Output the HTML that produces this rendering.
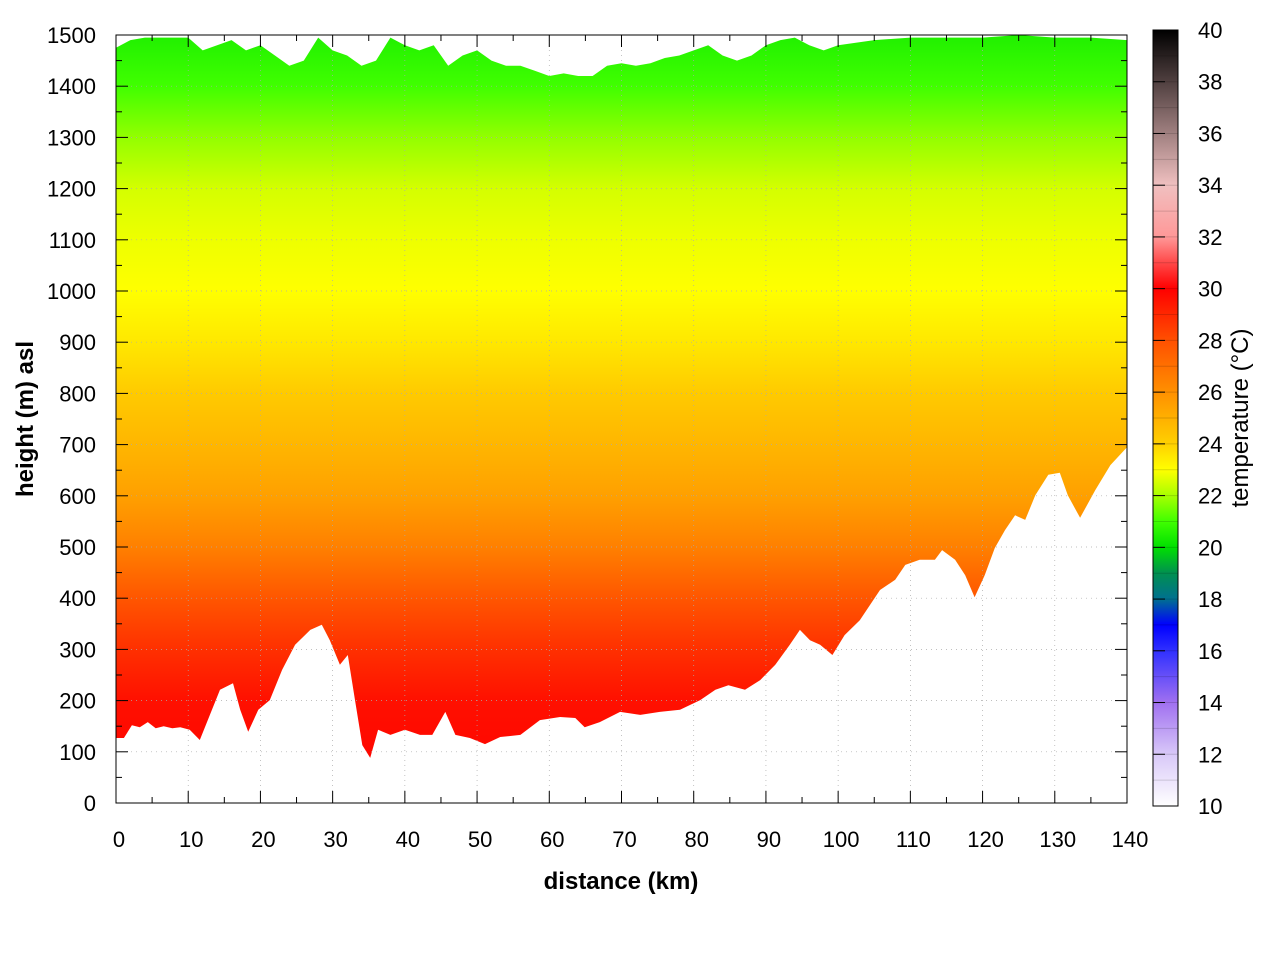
<!DOCTYPE html>
<html><head><meta charset="utf-8"><style>
html,body{margin:0;padding:0;background:#fff;}
svg text{font-family:"Liberation Sans",sans-serif;}
</style></head><body>
<svg id="chart" width="1280" height="960" xmlns="http://www.w3.org/2000/svg">
<defs>
<linearGradient id="fieldGrad" gradientUnits="userSpaceOnUse" x1="0" y1="803" x2="0" y2="35"></linearGradient>
<linearGradient id="cbGrad" gradientUnits="userSpaceOnUse" x1="0" y1="806" x2="0" y2="30"></linearGradient>
<clipPath id="plotClip"><rect x="116" y="35" width="1011" height="768"/></clipPath>
</defs>
<g id="field" clip-path="url(#plotClip)"></g>
<g id="grid"></g>
<g id="axes"></g>
<g id="cbar"></g>
</svg>
<script>
// ---- data ----
const terrainKm = [0,1.1,2.2,3.3,4.4,5.5,6.6,7.8,8.9,10.2,11.6,13,14.4,16.2,17.2,18.3,19.7,21.3,23,24.8,26.9,28.5,29.6,31,32.1,33.1,34.1,35.2,36.3,38,40,42.1,43.8,45.6,47,49,51.1,53.2,56,58.7,61.5,63.6,64.9,67,69.8,72.6,75.3,78.1,80.9,83,84.8,87.1,89.2,91.3,93.3,94.7,96.1,97.5,99.2,100.9,103,105.8,107.9,109.3,111.3,113.4,114.4,116.2,117.6,118.9,120.3,121.7,123.1,124.5,125.9,127.3,129.1,130.7,131.8,133.5,135.6,137.7,140];
const terrainM = [127,127,152,148,158,146,150,146,148,143,123,172,221,234,182,139,182,201,260,309,338,348,318,270,289,201,113,88,143,133,143,133,133,178,133,127,115,129,133,162,168,166,148,158,178,172,178,182,201,221,230,221,240,270,309,338,318,309,289,328,357,416,436,465,475,475,494,475,445,402,445,498,533,562,553,601,641,645,601,557,611,660,695];
const topKm = [0,2,4,6,8,10,12,14,16,18,20,22,24,26,28,30,32,34,36,38,40,42,44,46,48,50,52,54,56,58,60,62,64,66,68,70,72,74,76,78,80,82,84,86,88,90,92,94,96,98,100,105,110,115,120,125,130,135,140];
const topM = [1475,1490,1495,1495,1495,1495,1470,1480,1490,1470,1480,1460,1440,1450,1495,1470,1460,1440,1450,1495,1480,1470,1480,1440,1460,1470,1450,1440,1440,1430,1420,1425,1420,1420,1440,1445,1440,1445,1455,1460,1470,1480,1460,1450,1460,1480,1490,1495,1480,1470,1480,1490,1495,1495,1495,1500,1495,1495,1490];
const profileH = [0,100,200,300,400,500,600,700,800,900,1000,1100,1200,1300,1400,1500];
const profileT = [29.9,29.8,29.6,28.8,27.8,26.5,25.5,24.8,24.2,23.5,23.0,22.8,22.5,21.8,21.0,20.5];
const cmapT = [10,12,14,16,17,18,19,20,21,22,23,24,26,28,30,31,32,34,36,38,40];
const cmapC = ["#ffffff","#d8c8f8","#a070f0","#3030ff","#0000ff","#007090","#009050","#00e000","#40ff00","#a8ff00","#ffff00","#ffd000","#ff9000","#ff5000","#ff0000","#ff4848","#ff9898","#f0c0c0","#a08080","#504040","#000000"];
const xTicks = [0,10,20,30,40,50,60,70,80,90,100,110,120,130,140];
const yTicks = [0,100,200,300,400,500,600,700,800,900,1000,1100,1200,1300,1400,1500];
const cTicks = [10,12,14,16,18,20,22,24,26,28,30,32,34,36,38,40];

// ---- scales ----
const X = km => 116 + km*(1011/140);
const Y = m => 803 - m*(768/1500);
const CY = t => 806 - (t-10)*(776/30);
const NS = "http://www.w3.org/2000/svg";
function mk(tag, parent){const e=document.createElementNS(NS,tag);parent.appendChild(e);return e;}
function hex(c){return [1,3,5].map(i=>parseInt(c.substr(i,2),16));}
function cmap(t){
  for(let i=0;i<cmapT.length-1;i++){
    if(t<=cmapT[i+1]){const f=(t-cmapT[i])/(cmapT[i+1]-cmapT[i]);const a=hex(cmapC[i]),b=hex(cmapC[i+1]);
      return "rgb("+a.map((v,k)=>Math.round(v+(b[k]-v)*f)).join(",")+")";}
  }
  return cmapC[cmapC.length-1];
}
const fg=document.getElementById('fieldGrad');
profileH.forEach((h,i)=>{const s=mk('stop',fg);s.setAttribute('offset',(h/1500).toFixed(4));s.setAttribute('stop-color',cmap(profileT[i]));});
const cg=document.getElementById('cbGrad');
for(let t=10;t<=40;t+=0.25){const s=mk('stop',cg);s.setAttribute('offset',((t-10)/30).toFixed(4));s.setAttribute('stop-color',cmap(t));}

const field=document.getElementById('field');
let pts=[];
topKm.forEach((k,i)=>pts.push(X(k).toFixed(1)+","+Y(topM[i]).toFixed(1)));
for(let i=terrainKm.length-1;i>=0;i--) pts.push(X(terrainKm[i]).toFixed(1)+","+Y(terrainM[i]).toFixed(1));
const poly=mk('polygon',field);


poly.setAttribute('points',pts.join(' '));
poly.setAttribute('fill','url(#fieldGrad)');

const grid=document.getElementById('grid');
xTicks.slice(1,-1).forEach(k=>{const l=mk('line',grid);
  
  
  l.setAttribute('x1',X(k));l.setAttribute('x2',X(k));l.setAttribute('y1',35);l.setAttribute('y2',803);l.setAttribute('stroke','#aaa');l.setAttribute('stroke-width','0.7');l.setAttribute('stroke-dasharray','1,4');});
yTicks.slice(1,-1).forEach(m=>{const l=mk('line',grid);
  
  
  l.setAttribute('x1',116);l.setAttribute('x2',1127);l.setAttribute('y1',Y(m));l.setAttribute('y2',Y(m));l.setAttribute('stroke','#aaa');l.setAttribute('stroke-width','0.7');l.setAttribute('stroke-dasharray','1,4');});

const ax=document.getElementById('axes');
const fr=mk('rect',ax);


fr.setAttribute('x',116);fr.setAttribute('y',35);fr.setAttribute('width',1011);fr.setAttribute('height',768);fr.setAttribute('fill','none');fr.setAttribute('stroke','#000');
function tick(x1,y1,x2,y2){const l=mk('line',ax);l.setAttribute('x1',x1);l.setAttribute('y1',y1);l.setAttribute('x2',x2);l.setAttribute('y2',y2);l.setAttribute('stroke','#000');}
for(let k=0;k<=140;k+=5){const len=(k%10===0)?12:6;tick(X(k),803,X(k),803-len);tick(X(k),35,X(k),35+len);}
for(let m=0;m<=1500;m+=50){const len=(m%100===0)?12:6;tick(116,Y(m),116+len,Y(m));tick(1127,Y(m),1127-len,Y(m));}
xTicks.forEach(k=>{const t=mk('text',ax);
  
  
  t.setAttribute('x',X(k)+3);t.setAttribute('y',847);t.setAttribute('text-anchor','middle');t.setAttribute('font-size','22');t.textContent=k;});
yTicks.forEach(m=>{const t=mk('text',ax);
  
  
  t.setAttribute('x',96);t.setAttribute('y',Y(m)+8);t.setAttribute('text-anchor','end');t.setAttribute('font-size','22');t.textContent=m;});
const xt=mk('text',ax);


xt.setAttribute('x',621);xt.setAttribute('y',889);xt.setAttribute('text-anchor','middle');xt.setAttribute('font-size','24');xt.setAttribute('font-weight','bold');xt.textContent='distance (km)';
const yt=mk('text',ax);


yt.setAttribute('transform','translate(33,419) rotate(-90)');yt.setAttribute('text-anchor','middle');yt.setAttribute('font-size','24');yt.setAttribute('font-weight','bold');yt.textContent='height (m) asl';

const cb=document.getElementById('cbar');
const cr=mk('rect',cb);


cr.setAttribute('x',1153);cr.setAttribute('y',30);cr.setAttribute('width',25);cr.setAttribute('height',776);cr.setAttribute('fill','url(#cbGrad)');cr.setAttribute('stroke','#000');
for(let t=10;t<=40;t+=1){const l=mk('line',cb);l.setAttribute('x1',1153);l.setAttribute('x2',1178);l.setAttribute('y1',CY(t));l.setAttribute('y2',CY(t));l.setAttribute('stroke','rgba(0,0,0,0.15)');}
cTicks.forEach(t=>{const l=mk('line',cb);l.setAttribute('x1',1153);l.setAttribute('x2',1165);l.setAttribute('y1',CY(t));l.setAttribute('y2',CY(t));l.setAttribute('stroke','#000');
  const tx=mk('text',cb);
  
  
  tx.setAttribute('x',1198);tx.setAttribute('y',CY(t)+8);tx.setAttribute('font-size','22');tx.textContent=t;});
const ct=mk('text',cb);


ct.setAttribute('transform','translate(1248,418) rotate(-90)');ct.setAttribute('text-anchor','middle');ct.setAttribute('font-size','24');ct.textContent='temperature (°C)';
</script>
</body></html>
